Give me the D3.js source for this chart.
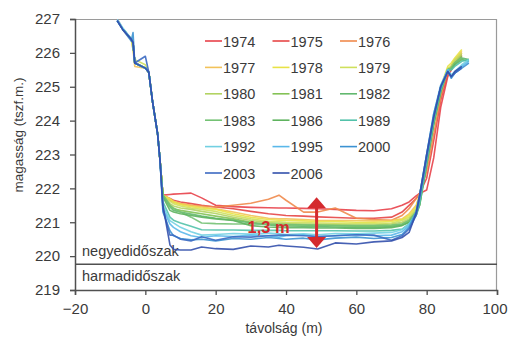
<!DOCTYPE html>
<html>
<head>
<meta charset="utf-8">
<script src="https://cdn.jsdelivr.net/npm/d3@7"></script>
<style>
  body { margin: 0; background: #fff; }
  svg text { font-family: "Liberation Sans", Arial, sans-serif; fill: #3a3a3a; }
</style>
</head>
<body>
<div id="chart"></div>
<script>
// distance (m) shared by every profile
var distance = [-8, -6.5, -4, -3.5, -3, 0, 1, 2, 3.5, 4.2,
  5, 7, 8, 10, 13, 16, 20, 25, 30, 35, 38, 40, 45, 49, 54, 60, 65, 70, 73, 75,
  77, 78, 80, 82, 84, 86, 87, 88, 90, 92];

var years = ["1974","1975","1976","1977","1978","1979","1980","1981","1982",
  "1983","1986","1989","1992","1995","2000","2003","2006"];

// elevation (m a.s.l.) for each survey, null = not measured
var y1974 = [227.0,226.72,226.4,226.3,225.7,225.55,225.42,224.6,223.6,222.8,
  221.8,221.82,221.83,221.84,221.86,221.72,221.5,221.46,221.44,221.43,221.42,221.42,221.41,221.4,221.38,221.35,221.34,221.4,221.5,221.6,
  221.78,221.85,221.95,222.9,224.4,225.3,225.5,225.7,225.9,null];
var y1975 = [null,226.7,226.4,226.3,225.7,225.55,225.42,224.6,223.6,222.8,
  221.8,221.7,221.65,221.6,221.55,221.5,221.45,221.4,221.32,221.25,221.22,221.2,221.18,221.16,221.14,221.12,221.12,221.15,221.3,221.5,
  221.7,221.85,222.3,223.4,224.6,225.4,225.6,225.8,225.95,null];
var y1976 = [null,226.7,226.38,226.28,225.72,225.55,225.42,224.6,223.6,222.8,
  221.8,221.65,221.6,221.55,221.5,221.48,221.45,221.5,221.56,221.68,221.8,221.65,221.3,221.3,221.42,221.12,221.08,221.06,221.2,221.4,
  221.7,221.85,222.5,223.6,224.7,225.5,225.6,225.8,226.0,null];
var y1977 = [null,226.7,226.4,226.1,225.6,225.55,225.42,224.6,223.6,222.8,
  221.8,221.7,221.62,221.55,221.5,221.45,221.4,221.3,221.2,221.12,221.1,221.1,221.08,221.06,221.05,221.05,221.04,221.06,221.1,221.25,
  221.5,221.8,222.8,223.9,224.9,225.5,225.6,225.8,226.05,null];
var y1978 = [null,226.72,226.4,226.3,225.7,225.55,225.42,224.6,223.6,222.8,
  221.8,221.68,221.6,221.52,221.46,221.42,221.38,221.25,221.15,221.08,221.06,221.05,221.04,221.02,221.02,221.0,221.0,221.02,221.08,221.2,
  221.45,221.8,222.9,224.1,225.0,225.6,225.7,225.85,226.1,null];
var y1979 = [null,226.72,226.4,226.1,225.8,225.65,225.42,224.6,223.6,222.8,
  221.8,221.62,221.55,221.48,221.42,221.38,221.32,221.2,221.1,221.03,221.01,221.0,220.99,220.98,220.97,220.96,220.96,220.98,221.05,221.15,
  221.4,221.75,222.9,224.0,224.95,225.55,225.6,225.8,226.0,null];
var y1980 = [null,226.72,226.4,226.3,225.7,225.55,225.42,224.6,223.6,222.8,
  221.8,221.55,221.48,221.42,221.38,221.32,221.26,221.15,221.05,220.99,220.97,220.96,220.95,220.94,220.93,220.92,220.92,220.95,221.0,221.1,
  221.35,221.7,222.85,224.0,224.9,225.5,225.6,225.75,225.95,null];
var y1981 = [null,226.72,226.4,226.3,225.7,225.55,225.42,224.6,223.6,222.8,
  221.8,221.5,221.4,221.35,221.3,221.25,221.18,221.1,221.0,220.95,220.93,220.92,220.92,220.9,220.9,220.88,220.88,220.9,220.95,221.05,
  221.3,221.6,222.8,223.95,224.9,225.5,225.55,225.7,225.9,null];
var y1982 = [null,226.72,226.4,226.3,225.7,225.55,225.42,224.6,223.6,222.8,
  221.8,221.45,221.35,221.3,221.24,221.18,221.12,221.06,220.98,220.92,220.9,220.89,220.88,220.87,220.86,220.85,220.85,220.87,220.92,221.0,
  221.25,221.5,222.7,223.9,224.85,225.5,225.55,225.7,225.85,225.8];
var y1983 = [null,226.72,226.4,226.3,225.7,225.55,225.42,224.6,223.6,222.8,
  221.8,221.5,221.42,221.3,221.15,220.98,220.96,220.95,220.95,220.94,220.93,220.93,220.92,220.92,220.9,220.9,220.9,220.92,220.95,221.05,
  221.3,221.55,222.8,223.95,224.9,225.5,225.55,225.7,225.85,null];
var y1986 = [226.95,226.72,226.4,226.3,225.7,225.55,225.42,224.6,223.6,222.8,
  221.75,221.35,221.3,221.25,221.2,221.15,221.1,221.05,220.9,220.86,220.85,220.84,220.84,220.83,220.83,220.82,220.82,220.84,220.9,221.0,
  221.2,221.5,222.7,223.9,224.85,225.5,225.5,225.65,225.8,225.75];
var y1989 = [226.95,226.72,226.4,226.3,225.7,225.55,225.42,224.6,223.6,222.8,
  221.6,221.15,221.06,220.98,220.88,220.78,220.77,220.77,220.76,220.76,220.76,220.75,220.75,220.75,220.75,220.74,220.74,220.76,220.8,220.95,
  221.2,221.55,222.8,224.0,224.9,225.5,225.5,225.6,225.75,225.8];
var y1992 = [227.0,226.75,226.42,226.3,225.7,225.55,225.42,224.6,223.6,222.8,
  221.5,221.05,220.98,220.85,220.72,220.62,220.64,220.67,220.65,220.68,220.66,220.64,220.66,220.63,220.67,220.66,220.68,220.7,220.78,220.95,
  221.25,221.7,222.9,224.1,225.0,225.5,225.35,225.45,225.65,225.8];
var y1995 = [226.95,226.72,226.4,226.3,225.7,225.55,225.42,224.6,223.6,222.8,
  221.4,220.95,220.85,220.72,220.6,220.55,220.6,220.58,220.62,220.6,220.56,220.6,220.63,220.57,220.6,220.64,220.6,220.62,220.72,220.9,
  221.3,221.8,223.0,224.2,225.05,225.5,225.3,225.4,225.6,225.75];
var y2000 = [226.95,226.7,226.35,226.6,225.7,225.55,225.42,224.6,223.6,222.8,
  221.3,220.75,220.6,220.52,220.48,220.5,220.45,220.52,220.5,220.55,220.52,220.5,220.53,220.48,220.53,220.56,220.52,220.55,220.64,220.85,
  221.3,221.8,223.0,224.2,225.0,225.45,225.25,225.4,225.55,225.7];
var y2003 = [226.95,226.7,226.4,226.3,225.7,225.9,225.42,224.6,223.6,222.8,
  221.4,220.62,220.62,220.5,220.45,220.57,220.47,220.57,220.56,220.6,220.62,220.62,220.6,220.58,220.6,220.63,220.62,220.47,220.6,220.8,
  221.2,221.7,222.9,224.1,225.0,225.45,225.3,225.4,225.55,null];
var y2006 = [226.95,226.7,226.4,226.3,225.7,225.55,225.42,224.6,223.6,222.8,
  221.5,220.33,220.2,220.18,220.18,220.27,220.22,220.2,220.3,220.27,220.32,220.3,220.26,220.21,220.39,220.36,220.42,220.45,220.55,220.7,
  221.27,221.8,223.0,224.1,225.0,225.45,225.3,225.45,225.6,null];

var profiles = [y1974,y1975,y1976,y1977,y1978,y1979,y1980,y1981,y1982,
  y1983,y1986,y1989,y1992,y1995,y2000,y2003,y2006];

var xTicks = [-20, 0, 20, 40, 60, 80, 100];
var yTicks = [219, 220, 221, 222, 223, 224, 225, 226, 227];
var boundary = 219.76;          // negyedidőszak / harmadidőszak
var change = [220.24, 221.74];  // 1,3 m arrow
var changeAt = 48.7;

var colors = ["#e8414a","#e64646","#f08a4c","#f2c25a","#e8e246","#cfe05c","#b2d362",
  "#84c255","#62b86e","#74c274","#5eb35e","#52c2aa","#72d0e2","#5ab8ea","#3c92d2","#3c6ac2","#3350ac"];

var svgWidth = 508, svgHeight = 339;
var margin = {top: 19, right: 11, bottom: 49, left: 75};
var width = svgWidth - margin.left - margin.right;
var height = svgHeight - margin.top - margin.bottom;

var svg = d3.select("#chart").append("svg")
  .attr("width", svgWidth)
  .attr("height", svgHeight);

var chartGroup = svg.append("g")
  .attr("transform", `translate(${margin.left}, ${margin.top})`);

var xScale = d3.scaleLinear().domain([-20, 100]).range([0, width]);
var yScale = d3.scaleLinear().domain([219, 227]).range([height, 0]);

svg.append("defs").append("clipPath").attr("id", "plot")
  .append("rect").attr("width", width).attr("height", height);

// frame (top and right)
chartGroup.append("path")
  .attr("d", `M0,0.5H${width - 0.5}V${height}`)
  .attr("fill", "none")
  .attr("stroke", "#9a9a9a")
  .attr("stroke-width", 1.2);

// axes
var xAxis = d3.axisBottom(xScale).tickValues(xTicks).tickSize(5).tickPadding(8);
var gx = chartGroup.append("g")
  .attr("transform", `translate(0, ${height})`)
  .call(xAxis);

var yAxis = d3.axisLeft(yScale).tickValues(yTicks).tickSize(5).tickPadding(10);
var gy = chartGroup.append("g").call(yAxis);

[gx, gy].forEach(function(g) {
  g.select(".domain").attr("stroke", "#505050").attr("stroke-width", 1.5);
  g.selectAll(".tick line").attr("stroke", "#505050").attr("stroke-width", 1.3);
  g.selectAll(".tick text").style("font-size", "15px").attr("fill", "#3a3a3a");
});
// last label sits at the picture's edge, as in the original; keep it inside
gx.selectAll(".tick text").filter(d => d == 100).attr("text-anchor", "end").attr("dx", "10");

// boundary line and labels
chartGroup.append("line")
  .attr("x1", 0).attr("x2", width)
  .attr("y1", yScale(boundary)).attr("y2", yScale(boundary))
  .attr("stroke", "#505050").attr("stroke-width", 1.4);

chartGroup.append("text")
  .attr("x", 7).attr("y", yScale(boundary) - 8)
  .style("font-size", "14.5px")
  .text("negyedidőszak");

chartGroup.append("text")
  .attr("x", 7).attr("y", yScale(boundary) + 17)
  .style("font-size", "14.5px")
  .text("harmadidőszak");

// profiles
var line = d3.line()
  .defined(d => d[1] != null)
  .x(d => xScale(d[0]))
  .y(d => yScale(d[1]));

var lines = chartGroup.append("g").attr("clip-path", "url(#plot)");
profiles.forEach(function(p, i) {
  lines.append("path")
    .datum(distance.map((x, j) => [x, p[j]]))
    .attr("d", line)
    .attr("fill", "none")
    .attr("stroke", colors[i])
    .attr("stroke-width", 1.6)
    .attr("stroke-linejoin", "round")
    .attr("opacity", 0.9);
});

// legend
var legend = chartGroup.append("g");
years.forEach(function(yr, i) {
  var col = i % 3, row = Math.floor(i / 3);
  var lx = 130 + col * 67.5, ly = 22 + row * 26.4;
  legend.append("line")
    .attr("x1", lx).attr("x2", lx + 17)
    .attr("y1", ly).attr("y2", ly)
    .attr("stroke", colors[i]).attr("stroke-width", 1.6);
  legend.append("text")
    .attr("x", lx + 18).attr("y", ly + 5.5)
    .style("font-size", "14.5px")
    .text(yr);
});

// 1,3 m change arrow
var red = "#d42a2e";
var ax = xScale(changeAt), aTop = yScale(change[1]), aBot = yScale(change[0]);
chartGroup.append("line")
  .attr("x1", ax).attr("x2", ax)
  .attr("y1", aTop + 8).attr("y2", aBot - 8)
  .attr("stroke", red).attr("stroke-width", 3);
chartGroup.append("path")
  .attr("d", `M${ax},${aTop}L${ax + 9.5},${aTop + 11}L${ax - 9.5},${aTop + 11}Z`)
  .attr("fill", red);
chartGroup.append("path")
  .attr("d", `M${ax},${aBot}L${ax + 9.5},${aBot - 11}L${ax - 9.5},${aBot - 11}Z`)
  .attr("fill", red);
chartGroup.append("text")
  .attr("x", ax - 69).attr("y", yScale(221.0) + 11)
  .style("font-size", "16.5px")
  .style("font-weight", "bold")
  .style("fill", red)
  .text("1,3 m");

// axis titles
svg.append("text")
  .attr("x", margin.left + width / 2 - 2)
  .attr("y", 333)
  .attr("text-anchor", "middle")
  .style("font-size", "14px")
  .text("távolság (m)");

svg.append("text")
  .attr("transform", "rotate(-90)")
  .attr("x", -135)
  .attr("y", 23)
  .attr("text-anchor", "middle")
  .style("font-size", "13.5px")
  .text("magasság (tszf.m.)");
</script>
</body>
</html>
